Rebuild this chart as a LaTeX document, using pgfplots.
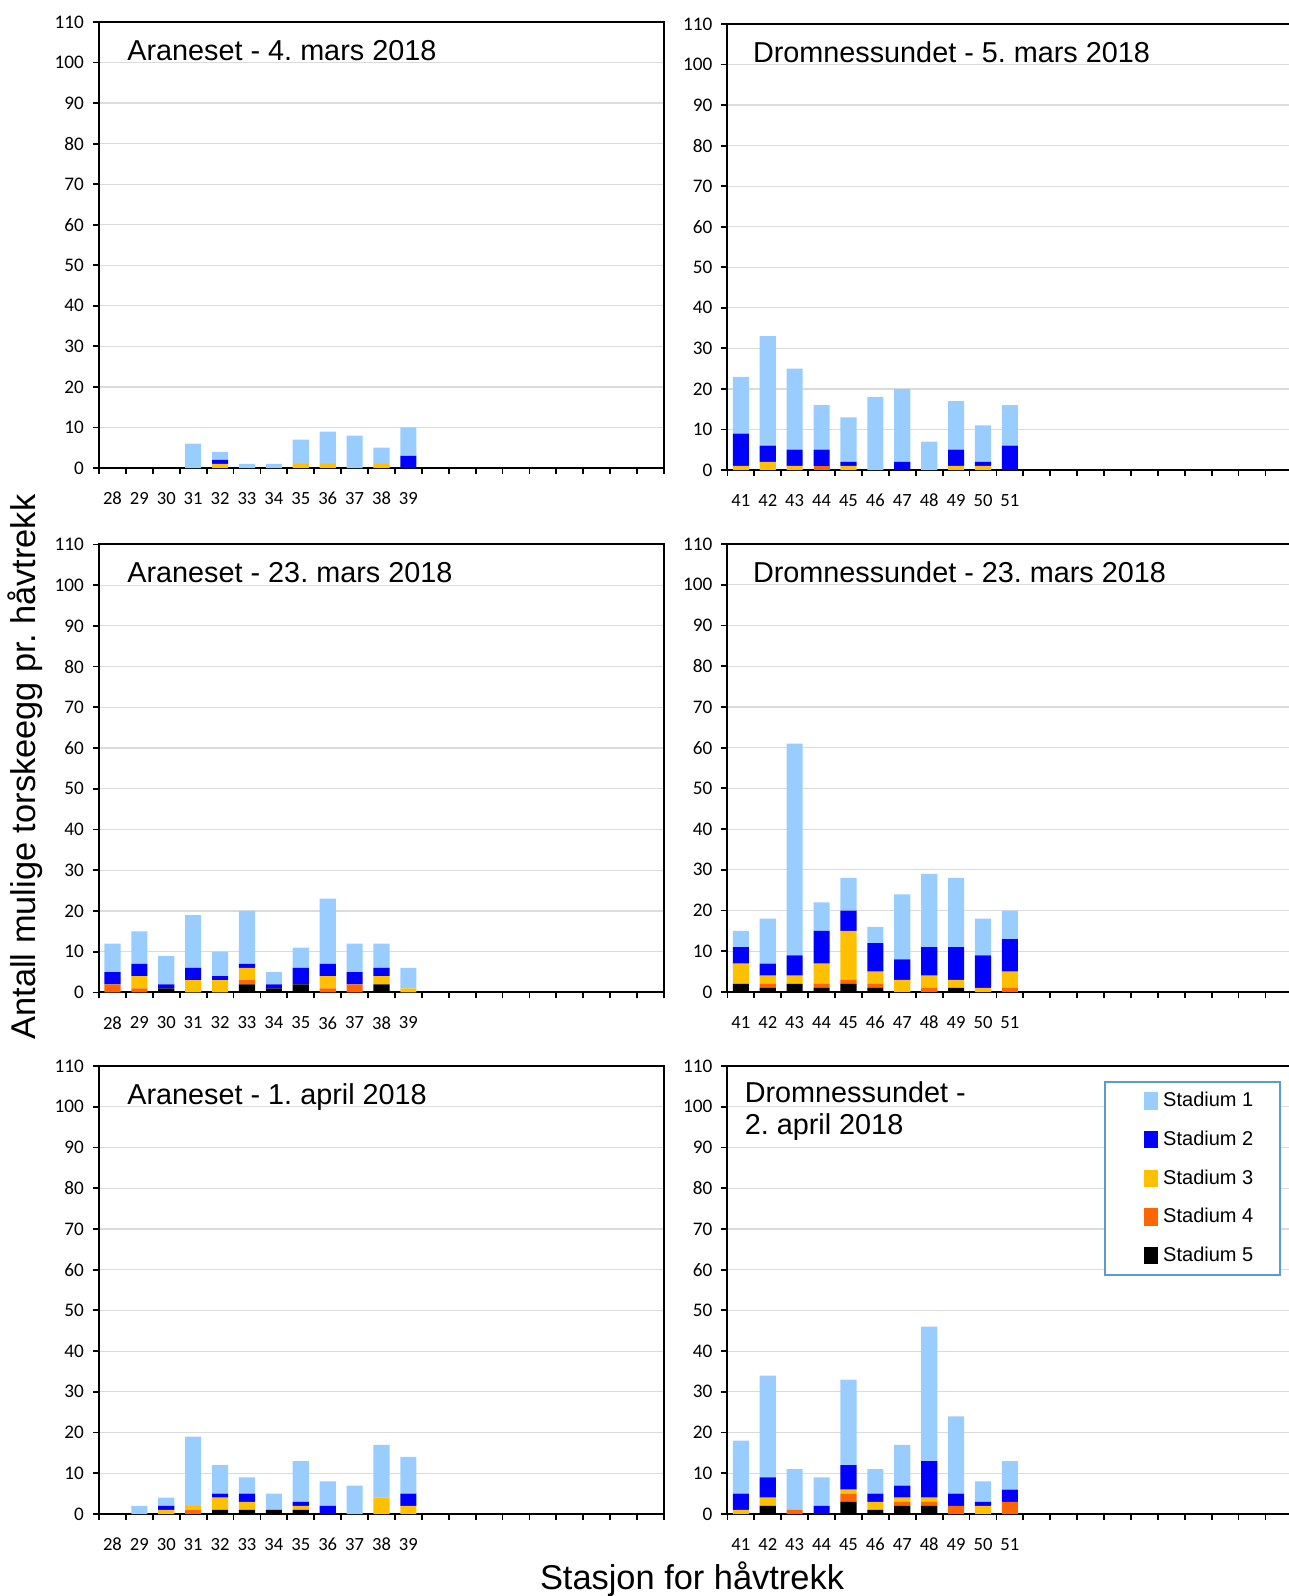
\documentclass[border=0pt]{standalone}
\usepackage{fontspec}
\setmainfont{Liberation Sans}
\newfontfamily\carlito{Carlito}
\usepackage{pgfplots}
\usepackage{pgfplotstable}
\pgfplotsset{compat=1.18}
\frenchspacing
\definecolor{sone}{HTML}{99CCFF}
\definecolor{stwo}{HTML}{0000FF}
\definecolor{sthree}{HTML}{FFC000}
\definecolor{sfour}{HTML}{FF6600}
\definecolor{sfive}{HTML}{000000}
\definecolor{legblue}{HTML}{5B9BD5}

% columns: x s5 s4 s3 s2 s1
\pgfplotstableread{
x s5 s4 s3 s2 s1
0 0 0 0 0 0
1 0 0 0 0 0
2 0 0 0 0 0
3 0 0 0 0 6
4 0 0 1 1 2
5 0 0 0 0 1
6 0 0 0 0 1
7 0 0 1 0 6
8 0 0 1 0 8
9 0 0 0 0 8
10 0 0 1 0 4
11 0 0 0 3 7
}\tabA
\pgfplotstableread{
x s5 s4 s3 s2 s1
0 0 0 1 8 14
1 0 0 2 4 27
2 0 0 1 4 20
3 0 1 0 4 11
4 0 0 1 1 11
5 0 0 0 0 18
6 0 0 0 2 18
7 0 0 0 0 7
8 0 0 1 4 12
9 0 0 1 1 9
10 0 0 0 6 10
}\tabB
\pgfplotstableread{
x s5 s4 s3 s2 s1
0 0 2 0 3 7
1 0 1 3 3 8
2 1 0 0 1 7
3 0 0 3 3 13
4 0 0 3 1 6
5 2 1 3 1 13
6 1 0 0 1 3
7 2 0 0 4 5
8 0 1 3 3 16
9 0 2 0 3 7
10 2 0 2 2 6
11 0 0 1 0 5
}\tabC
\pgfplotstableread{
x s5 s4 s3 s2 s1
0 2 0 5 4 4
1 1 1 2 3 11
2 2 0 2 5 52
3 1 1 5 8 7
4 2 1 12 5 8
5 1 1 3 7 4
6 0 0 3 5 16
7 0 1 3 7 18
8 1 0 2 8 17
9 0 0 1 8 9
10 0 1 4 8 7
}\tabD
\pgfplotstableread{
x s5 s4 s3 s2 s1
0 0 0 0 0 0
1 0 0 0 0 2
2 0 0 1 1 2
3 0 1 1 0 17
4 1 0 3 1 7
5 1 0 2 2 4
6 1 0 0 0 4
7 1 0 1 1 10
8 0 0 0 2 6
9 0 0 0 0 7
10 0 0 4 0 13
11 0 0 2 3 9
}\tabE
\pgfplotstableread{
x s5 s4 s3 s2 s1
0 0 0 1 4 13
1 2 0 2 5 25
2 0 1 0 0 10
3 0 0 0 2 7
4 3 2 1 6 21
5 1 0 2 2 6
6 2 1 1 3 10
7 2 1 1 9 33
8 0 2 0 3 19
9 0 0 2 1 5
10 0 3 0 3 7
}\tabF

\pgfplotsset{
  panel/.style={
    scale only axis, width=282.5pt, height=224pt,
    anchor=south west,
    ybar stacked, bar width=0.6,
    xmin=-0.5, xmax=20.5, ymin=0, ymax=110,
    ytick={0,10,...,110},
    yticklabels={0,10,20,30,40,50,60,70,80,90,100,110},
    xtick={-0.5,0.5,...,20.5},
    xticklabels={},
    tick align=outside, tick pos=left,
    major tick length=3pt,
    every tick/.style={black, line width=0.9pt},
    axis line style={black, line width=1pt},
    ymajorgrids, major grid style={draw=black!14, line width=0.6pt},
    yticklabel style={font=\carlito\fontsize{9.6}{11}\selectfont, xshift=-1pt},
    extra x tick style={major tick length=0pt,
      xticklabel style={font=\carlito\fontsize{9.3}{11}\selectfont, yshift=-8.5pt}},
    clip=false,
  },
  leftp/.style={panel, extra x ticks={0,...,11},
    extra x tick labels={28,29,30,31,32,33,34,35,36,37,38,39}},
  rightp/.style={panel, extra x ticks={0,...,10},
    extra x tick labels={41,42,43,44,45,46,47,48,49,50,51}},
  sq/.style={legend image code/.code={
      \path (0pt,0pt) (15.7pt,0pt);
      \fill[##1,draw=none] (6pt,-4.3pt) rectangle (13.2pt,4.3pt);}},
}
\newcommand{\stack}[1]{%
  \addplot[fill=sfive,draw=none,sq] table[x=x,y=s5]{#1};
  \addplot[fill=sfour,draw=none,sq] table[x=x,y=s4]{#1};
  \addplot[fill=sthree,draw=none,sq] table[x=x,y=s3]{#1};
  \addplot[fill=stwo,draw=none,sq] table[x=x,y=s2]{#1};
  \addplot[fill=sone,draw=none,sq] table[x=x,y=s1]{#1};
}
\newcommand{\ptitle}[3]{\node[anchor=base west, inner sep=0pt, xshift=#1, yshift=#2,
  font=\fontsize{14.4}{16}\selectfont] at (rel axis cs:0,1) {#3};}

\begin{document}
\begin{tikzpicture}
\useasboundingbox (0pt,0pt) rectangle (644.5pt,-798pt);

\begin{axis}[leftp, height=223pt, at={(49.5pt,-234pt)}]
\stack{\tabA}
\ptitle{14pt}{-19pt}{Araneset - 4. mars 2018}
\end{axis}

\begin{axis}[rightp, height=223pt, at={(363.7pt,-235pt)}]
\stack{\tabB}
\ptitle{12.6pt}{-19pt}{Dromnessundet - 5. mars 2018}
\end{axis}

\begin{axis}[leftp, at={(49.5pt,-496.2pt)}]
\stack{\tabC}
\ptitle{14pt}{-19pt}{Araneset - 23. mars 2018}
\end{axis}

\begin{axis}[rightp, at={(363.7pt,-496pt)}]
\stack{\tabD}
\ptitle{12.6pt}{-19pt}{Dromnessundet - 23. mars 2018}
\end{axis}

\begin{axis}[leftp, at={(49.5pt,-757pt)}]
\stack{\tabE}
\ptitle{14pt}{-19pt}{Araneset - 1. april 2018}
\end{axis}

\begin{axis}[rightp, at={(363.7pt,-757pt)},
  reverse legend,
  legend style={at={(0.6666,0.9666)}, anchor=north west,
    draw=legblue, line width=0.8pt, inner xsep=13.5pt, inner ysep=5.2pt,
    row sep=10.6pt, font=\fontsize{10}{11}\selectfont,
    nodes={inner sep=0pt}},
  legend cell align=left]
\stack{\tabF}
\legend{Stadium 5,Stadium 4,Stadium 3,Stadium 2,Stadium 1}
\ptitle{8.5pt}{-18.4pt}{Dromnessundet -}
\ptitle{8.5pt}{-34.2pt}{2. april 2018}
\end{axis}

\node[rotate=90, font=\fontsize{17.2}{19}\selectfont] at (12.75pt,-383.5pt)
  {Antall mulige torskeegg pr. håvtrekk};
\node[font=\fontsize{17.2}{19}\selectfont] at (346pt,-789.5pt)
  {Stasjon for håvtrekk};
\end{tikzpicture}
\end{document}
